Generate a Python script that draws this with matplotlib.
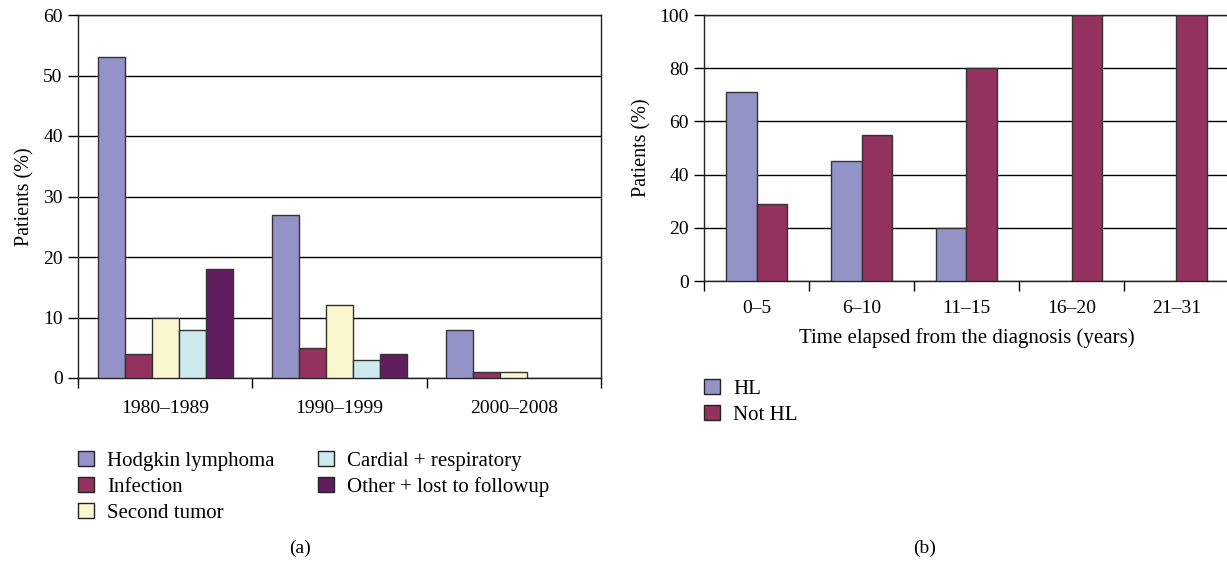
import matplotlib
matplotlib.use("Agg")
import matplotlib.pyplot as plt
import numpy as np
from matplotlib.patches import Patch

plt.rcParams['font.family'] = ['Liberation Serif', 'DejaVu Serif']
plt.rcParams['font.size'] = 14

# panel (a)
decades = ["1980–1989", "1990–1999", "2000–2008"]
causes = ["Hodgkin lymphoma", "Infection", "Second tumor",
          "Cardial + respiratory", "Other + lost to followup"]
hodgkin = [53, 27, 8]
infection = [4, 5, 1]
second_tumor = [10, 12, 1]
cardial = [8, 3, 0]
other = [18, 4, 0]
cause_colors = ["#9393c8", "#93325f", "#faf7cf", "#cdebef", "#611e5e"]

# panel (b)
periods = ["0–5", "6–10", "11–15", "16–20", "21–31"]
hl = [71, 45, 20, 0, 0]
not_hl = [29, 55, 80, 100, 100]
hl_colors = ["#9393c8", "#93325f"]

W, H = 1227, 562
fig = plt.figure(figsize=(W / 100, H / 100), dpi=100)


def px_axes(x0, y0, x1, y1):
    # pixel box (top-left origin) -> figure axes
    return fig.add_axes([x0 / W, 1 - y1 / H, (x1 - x0) / W, (y1 - y0) / H])


def style_axes(ax, ymax, step):
    ax.set_ylim(0, ymax)
    ax.set_yticks(np.arange(0, ymax + 1, step))
    ax.yaxis.grid(True, color="black", linewidth=1.0)
    ax.set_axisbelow(True)
    ax.tick_params(axis="y", direction="out", length=7, width=1, pad=4, labelsize=14)
    ax.tick_params(axis="x", which="major", length=0, pad=16, labelsize=14)
    ax.tick_params(axis="x", which="minor", direction="out", length=7, width=1)
    for s in ax.spines.values():
        s.set_color("#222222")
        s.set_linewidth(1.0)


def draw_bars(ax, xpos, vals, width, color):
    lw = [1.0 if v > 0 else 0 for v in vals]
    ax.bar(xpos, vals, width=width, color=color,
           edgecolor="#333333", linewidth=lw, zorder=3)


# ---- (a)
ax1 = px_axes(78, 15, 601, 378)
series = [hodgkin, infection, second_tumor, cardial, other]
x = np.arange(len(decades))
bw = 0.155
for i, (vals, col) in enumerate(zip(series, cause_colors)):
    draw_bars(ax1, x + (i - 2) * bw, vals, bw, col)
ax1.set_xlim(-0.5, len(decades) - 0.5)
ax1.set_xticks(x)
ax1.set_xticklabels(decades)
ax1.set_xticks(np.arange(-0.5, len(decades)), minor=True)
style_axes(ax1, 60, 10)
ax1.set_ylabel("Patients (%)", labelpad=6, fontsize=14.5)

handles = [Patch(facecolor=c, edgecolor="#222222", label=l)
           for c, l in zip(cause_colors, causes)]
fig.legend(handles=handles, ncol=2, frameon=False,
           loc="upper left", bbox_to_anchor=(59 / W, 1 - 432 / H),
           handlelength=0.78, handleheight=0.78, handletextpad=0.62,
           columnspacing=2.1, labelspacing=0.28, fontsize=15)
fig.text(300 / W, 1 - 548 / H, "(a)", ha="center", va="center", fontsize=14)

# ---- (b)
ax2 = px_axes(704, 15, 1229, 281)
x2 = np.arange(len(periods))
bw2 = 0.286
draw_bars(ax2, x2 - bw2 / 2, hl, bw2, hl_colors[0])
draw_bars(ax2, x2 + bw2 / 2, not_hl, bw2, hl_colors[1])
ax2.set_xlim(-0.5, len(periods) - 0.5)
ax2.set_xticks(x2)
ax2.set_xticklabels(periods)
ax2.set_xticks(np.arange(-0.5, len(periods)), minor=True)
style_axes(ax2, 100, 20)
ax2.tick_params(axis="x", which="major", pad=14)
ax2.spines["right"].set_visible(False)
ax2.set_ylabel("Patients (%)", labelpad=6, fontsize=14.5)
ax2.set_xlabel("Time elapsed from the diagnosis (years)", labelpad=8, fontsize=15)

handles2 = [Patch(facecolor=c, edgecolor="#222222", label=l)
            for c, l in zip(hl_colors, ["HL", "Not HL"])]
fig.legend(handles=handles2, frameon=False,
           loc="upper left", bbox_to_anchor=(685 / W, 1 - 360 / H),
           handlelength=0.78, handleheight=0.78, handletextpad=0.62,
           labelspacing=0.28, fontsize=15)
fig.text(925 / W, 1 - 548 / H, "(b)", ha="center", va="center", fontsize=14)

fig.savefig("out.png", dpi=100)
